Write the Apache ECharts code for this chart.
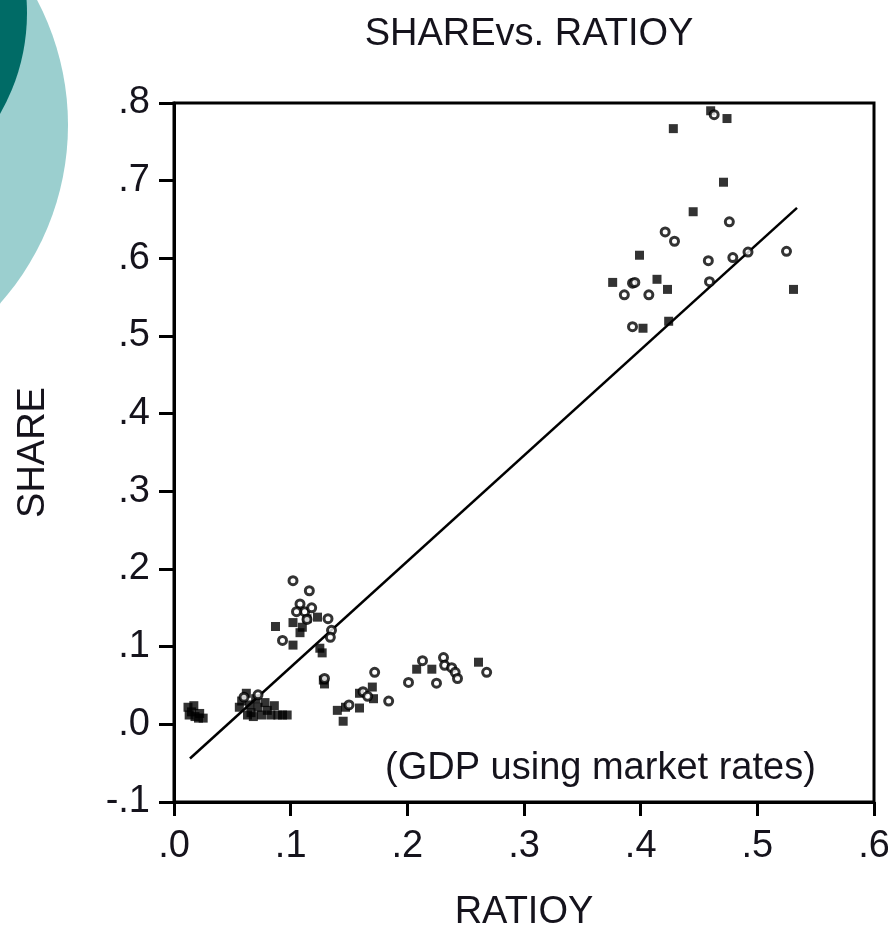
<!DOCTYPE html>
<html>
<head>
<meta charset="utf-8">
<script src="https://cdn.jsdelivr.net/npm/echarts@6/dist/echarts.min.js"></script>
<style>
  html, body { margin: 0; padding: 0; background: #fff; }
  #chart { width: 888px; height: 928px; }
</style>
</head>
<body>
<div id="chart"></div>
<script>
// Tick labels (EViews style, no leading zero)
const xTickLabels = ['.0', '.1', '.2', '.3', '.4', '.5', '.6'];
const yTickLabels = ['-.1', '.0', '.1', '.2', '.3', '.4', '.5', '.6', '.7', '.8'];

// Filled-square observations
const squareX = [0.012, 0.015, 0.013, 0.018, 0.021, 0.025, 0.017, 0.022,
  0.056, 0.058, 0.062, 0.065, 0.066, 0.070, 0.072, 0.075, 0.078, 0.080, 0.083, 0.086, 0.089, 0.093, 0.097, 0.063, 0.068,
  0.087, 0.102, 0.108, 0.114, 0.123, 0.102, 0.125, 0.127, 0.128, 0.110,
  0.129, 0.159, 0.170, 0.171, 0.140, 0.147, 0.159, 0.145, 0.208, 0.221, 0.261,
  0.460, 0.474, 0.428, 0.471, 0.445, 0.399, 0.376, 0.414, 0.423, 0.531, 0.424, 0.402];
const squareY = [0.022, 0.016, 0.012, 0.010, 0.008, 0.008, 0.024, 0.014,
  0.022, 0.030, 0.040, 0.025, 0.015, 0.033, 0.022, 0.012, 0.028, 0.018, 0.012, 0.024, 0.012, 0.012, 0.012, 0.012, 0.010,
  0.126, 0.131, 0.118, 0.136, 0.138, 0.102, 0.098, 0.092, 0.057, 0.125,
  0.052, 0.040, 0.048, 0.033, 0.018, 0.022, 0.021, 0.004, 0.071, 0.071, 0.080,
  0.790, 0.780, 0.767, 0.698, 0.660, 0.604, 0.569, 0.573, 0.560, 0.560, 0.519, 0.510];

// Open-ring observations
const ringX = [0.102, 0.116, 0.108, 0.112, 0.118, 0.114, 0.132, 0.135, 0.134, 0.093, 0.129, 0.105,
  0.172, 0.162, 0.184, 0.201, 0.213, 0.225, 0.231, 0.232, 0.238, 0.241, 0.243, 0.268, 0.150, 0.166, 0.060, 0.072,
  0.476, 0.421, 0.429, 0.458, 0.479, 0.492, 0.525, 0.393, 0.395, 0.386, 0.407, 0.459, 0.393, 0.463];
const ringY = [0.185, 0.172, 0.155, 0.145, 0.150, 0.135, 0.136, 0.121, 0.112, 0.108, 0.059, 0.145,
  0.067, 0.042, 0.030, 0.054, 0.082, 0.053, 0.086, 0.076, 0.073, 0.067, 0.059, 0.067, 0.025, 0.036, 0.035, 0.038,
  0.647, 0.634, 0.622, 0.597, 0.601, 0.608, 0.609, 0.568, 0.569, 0.553, 0.553, 0.570, 0.512, 0.785];

// Fitted regression line end points
const fitX = [0.0137, 0.534];
const fitY = [-0.044, 0.665];

const zip = (xs, ys) => xs.map((x, i) => [x, ys[i]]);

const FONT = '"Liberation Sans", Arial, sans-serif';
const TEXT = '#15131c';

const chart = echarts.init(document.getElementById('chart'), null, { renderer: 'canvas' });

chart.setOption({
  animation: false,
  backgroundColor: '#ffffff',
  title: {
    text: 'SHAREvs. RATIOY',
    left: 524,
    top: 11,
    textAlign: 'center',
    textStyle: { fontFamily: FONT, fontSize: 38, fontWeight: 'normal', color: TEXT }
  },
  graphic: [
    { type: 'circle', z: -10, shape: { cx: -200, cy: 125, r: 268 }, style: { fill: '#9bcfcf' }, silent: true },
    { type: 'circle', z: -9, shape: { cx: -175, cy: 13, r: 202 }, style: { fill: '#006b66' }, silent: true },
    {
      type: 'text', left: 385, top: 750, z: 10,
      style: { text: '(GDP using market rates)', font: '38px ' + FONT, fill: TEXT }
    }
  ],
  grid: {
    left: 174, right: 14, top: 103, bottom: 126,
    outerBoundsMode: 'none', containLabel: false,
    show: true, borderColor: '#000', borderWidth: 3, backgroundColor: '#fff'
  },
  xAxis: {
    type: 'value', min: 0, max: 0.6, interval: 0.1,
    name: 'RATIOY', nameLocation: 'middle', nameGap: 92,
    nameTextStyle: { fontFamily: FONT, fontSize: 38, color: TEXT },
    axisLine: { show: true, onZero: false, lineStyle: { color: '#000', width: 3 } },
    axisTick: { show: true, inside: false, length: 14, lineStyle: { color: '#000', width: 3 } },
    axisLabel: {
      margin: 26, fontFamily: FONT, fontSize: 38, color: TEXT,
      formatter: (v, i) => xTickLabels[i]
    },
    splitLine: { show: false }
  },
  yAxis: {
    type: 'value', min: -0.1, max: 0.8, interval: 0.1,
    name: 'SHARE', nameLocation: 'middle', nameGap: 121, nameRotate: 90,
    nameTextStyle: { fontFamily: FONT, fontSize: 38, color: TEXT },
    axisLine: { show: true, onZero: false, lineStyle: { color: '#000', width: 3 } },
    axisTick: { show: true, inside: false, length: 15, lineStyle: { color: '#000', width: 3 } },
    axisLabel: {
      margin: 24, fontFamily: FONT, fontSize: 38, color: TEXT,
      formatter: (v, i) => yTickLabels[i]
    },
    splitLine: { show: false }
  },
  series: [
    {
      type: 'line', data: zip(fitX, fitY), symbol: 'none',
      lineStyle: { color: '#000', width: 2.5 }, z: 3
    },
    {
      type: 'scatter', data: zip(squareX, squareY), symbol: 'rect', symbolSize: 9,
      itemStyle: { color: '#000' }, z: 4
    },
    {
      type: 'scatter', data: zip(ringX, ringY), symbol: 'circle', symbolSize: 8,
      itemStyle: { color: '#fff', borderColor: '#000', borderWidth: 3 }, z: 5
    }
  ]
});
</script>
</body>
</html>
